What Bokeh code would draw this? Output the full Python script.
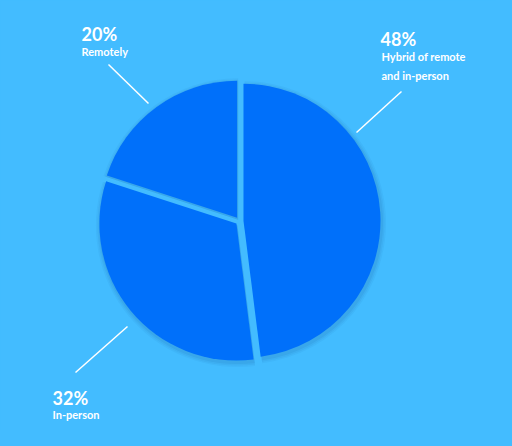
import math
from bokeh.plotting import figure
from bokeh.models import Range1d, ColumnDataSource
from bokeh.core.properties import value
from bokeh.embed import file_html
from bokeh.resources import INLINE

# ---- data ----
categories = ["Hybrid of remote\nand in-person", "In-person", "Remotely"]
percents = [48, 32, 20]
pct_labels = ["48%", "32%", "20%"]

BG = "#43BCFF"
SLICE = "#0070FA"
W, H = 512, 446
M = 8
FW, FH = W - 2 * M, H - 2 * M

def Y(yp):
    return H - yp

p = figure(width=FW, height=FH, output_backend="svg",
           toolbar_location=None, x_range=Range1d(0, FW), y_range=Range1d(H - FH, H),
           x_axis_location=None, y_axis_location=None, min_border=0,
           background_fill_color=BG, border_fill_color=BG, outline_line_color=None)
p.grid.visible = False

cx, cy, R, d = 239.0, Y(220.5), 137.0, 4.0

total = sum(percents)
starts, ends, xs, ys = [], [], [], []
acc = 0.0
for v in percents:
    a0 = math.radians(90 - (acc + v) / total * 360)
    a1 = math.radians(90 - acc / total * 360)
    acc += v
    mid = (a0 + a1) / 2
    starts.append(a0)
    ends.append(a1)
    xs.append(cx + d * math.cos(mid))
    ys.append(cy + d * math.sin(mid))

# soft shadow
for extra, alpha in [(4.5, 0.05), (3.0, 0.06), (1.5, 0.08)]:
    p.wedge(x=[x + 1 for x in xs], y=[y - 2 for y in ys], radius=R + extra,
            start_angle=starts, end_angle=ends, fill_color="#0b4a8a",
            fill_alpha=alpha, line_color=None)

src = ColumnDataSource(dict(x=xs, y=ys, start=starts, end=ends, cat=categories, val=percents))
p.wedge(x="x", y="y", radius=R, start_angle="start", end_angle="end",
        fill_color=SLICE, line_color=None, source=src)

# leader lines (page pixel coordinates)
lines = [((356, 132), (401, 91)), ((127, 326), (75, 372)), ((148, 103), (108, 64))]
for (x0, y0), (x1, y1) in lines:
    p.line([x0, x1], [Y(y0), Y(y1)], line_color="white", line_width=1.5)

# labels
pct_pos = [(380, 38), (52, 397), (81, 33)]
desc_pos = [(381, 56), (52, 414), (81, 51)]
for i in range(3):
    px, py = pct_pos[i]
    p.text(x=[px], y=[Y(py)], text=[pct_labels[i]], text_color="white",
           text_font=value("Lato"), text_font_style="bold", text_font_size="18px",
           text_baseline="alphabetic", text_align="left")
    dx, dy = desc_pos[i]
    for j, line in enumerate(categories[i].split("\n")):
        p.text(x=[dx], y=[Y(dy + 19 * j)], text=[line], text_color="white",
               text_font=value("Lato"), text_font_style="bold", text_font_size="11px",
               text_baseline="alphabetic", text_align="left")

html = file_html(p, INLINE)
html = html.replace("</head>", "<style>html,body{background:%s;}</style></head>" % BG, 1)
open("out.html", "w").write(html)
